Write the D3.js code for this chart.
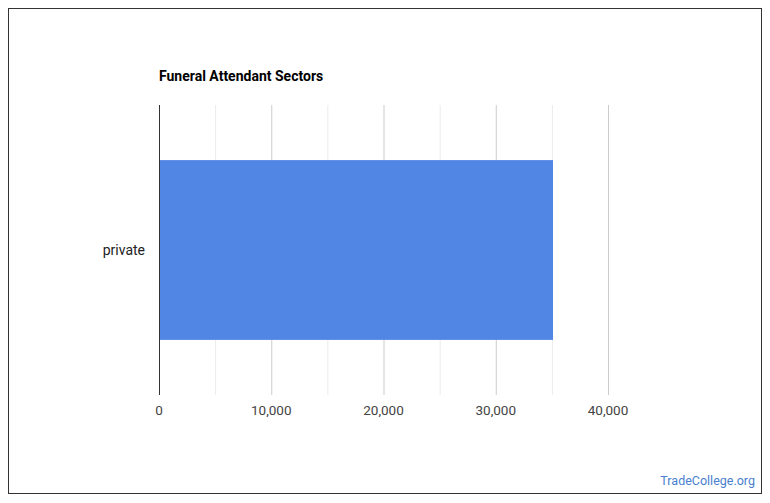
<!DOCTYPE html>
<html><head><meta charset="utf-8">
<script src="https://d3js.org/d3.v7.min.js"></script>
<style>body{margin:0;background:#fff;font-family:Roboto,sans-serif}</style>
</head><body>
<script>
var categories = ["private"];
var values = [35100];
var tickValues = [0, 10000, 20000, 30000, 40000];
var minorTicks = [5000, 15000, 25000, 35000];

var svg = d3.select("body").append("svg").attr("width", 770).attr("height", 503);
svg.append("rect").attr("x", 8.5).attr("y", 8.5).attr("width", 753).attr("height", 485)
	.attr("fill", "#fff").attr("stroke", "#333");

var x = d3.scaleLinear().domain([0, 40000]).range([159, 608]);
var y = d3.scaleBand().domain(categories).range([105, 395]).paddingInner(0.38).paddingOuter(0.19);

svg.selectAll(".minor").data(minorTicks).enter().append("line")
	.attr("x1", d => x(d) + 0.5).attr("x2", d => x(d) + 0.5).attr("y1", 105).attr("y2", 395)
	.attr("stroke", "#ebebeb");
svg.selectAll(".major").data(tickValues.slice(1)).enter().append("line")
	.attr("x1", d => x(d) + 0.5).attr("x2", d => x(d) + 0.5).attr("y1", 105).attr("y2", 395)
	.attr("stroke", "#cccccc");

svg.selectAll(".bar").data(values).enter().append("rect")
	.attr("x", x(0)).attr("y", (d, i) => y(categories[i]))
	.attr("width", d => x(d) - x(0)).attr("height", y.bandwidth())
	.attr("fill", "#5286e4");

svg.append("line").attr("x1", 159.5).attr("x2", 159.5).attr("y1", 105).attr("y2", 395).attr("stroke", "#333");

svg.selectAll(".tick").data(tickValues).enter().append("text")
	.attr("x", d => x(d)).attr("y", 415).attr("text-anchor", "middle")
	.attr("font-size", 13.5).attr("fill", "#444").text(d3.format(","));

svg.selectAll(".cat").data(categories).enter().append("text")
	.attr("x", 145).attr("y", d => y(d) + y.bandwidth() / 2 + 5).attr("text-anchor", "end")
	.attr("font-size", 14).attr("fill", "#222").text(d => d);

svg.append("text").attr("x", 159).attr("y", 81).attr("font-size", 14).attr("font-weight", "bold")
	.attr("fill", "#000").text("Funeral Attendant Sectors");

svg.append("text").attr("x", 755).attr("y", 485).attr("text-anchor", "end").attr("font-size", 12.5)
	.attr("fill", "#4a7fd0").text("TradeCollege.org");
</script>
</body></html>
